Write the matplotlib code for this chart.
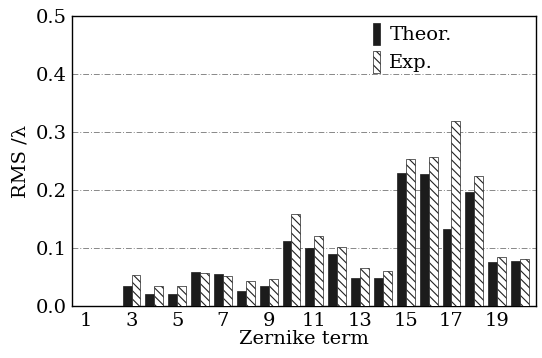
import numpy as np
import matplotlib.pyplot as plt

# Zernike terms 1..20, RMS in waves
terms = np.arange(1, 21)
theor = [0.0, 0.0, 0.034, 0.021, 0.021, 0.058, 0.055, 0.026, 0.034, 0.113,
         0.101, 0.090, 0.049, 0.049, 0.230, 0.227, 0.133, 0.197, 0.076, 0.078]
exp_ = [0.0, 0.0, 0.054, 0.035, 0.035, 0.057, 0.052, 0.044, 0.046, 0.158,
        0.121, 0.102, 0.066, 0.061, 0.253, 0.257, 0.320, 0.225, 0.084, 0.081]
xticks = [1, 3, 5, 7, 9, 11, 13, 15, 17, 19]

plt.rcParams['font.family'] = 'DejaVu Serif'
plt.rcParams['hatch.linewidth'] = 0.8

fig = plt.figure(figsize=(5.42, 3.58), dpi=100)
ax = fig.add_axes([0.133, 0.145, 0.856, 0.81])

w = 0.39
ax.bar(terms - w / 2, theor, width=w, color='#1c1c1c', edgecolor='#1c1c1c',
       linewidth=0.5, label='Theor.', zorder=3)
ax.bar(terms + w / 2, exp_, width=w, color='white', edgecolor='#222222',
       hatch='\\\\\\\\', linewidth=0.5, label='Exp.', zorder=3)

ax.set_xlim(0.4, 20.7)
ax.set_ylim(0, 0.5)
ax.set_xticks(xticks)
ax.set_yticks([0.0, 0.1, 0.2, 0.3, 0.4, 0.5])
ax.set_yticklabels(['0.0', '0.1', '0.2', '0.3', '0.4', '0.5'])
ax.tick_params(labelsize=14, length=0, pad=4)
ax.yaxis.grid(True, linestyle=(0, (6, 2, 1, 2)), color='#888888', linewidth=0.7, zorder=0)
for s in ax.spines.values():
    s.set_linewidth(1.0)

ax.set_xlabel('Zernike term', fontsize=14, labelpad=0)
ax.set_ylabel('RMS /λ', fontsize=14, labelpad=4)

ax.legend(loc='upper left', bbox_to_anchor=(0.648, 0.975), frameon=False, fontsize=14,
          borderpad=0, borderaxespad=0,
          handlelength=0.35, handleheight=1.3, handletextpad=0.5, labelspacing=0.35)

fig.savefig('out.png', dpi=100)
